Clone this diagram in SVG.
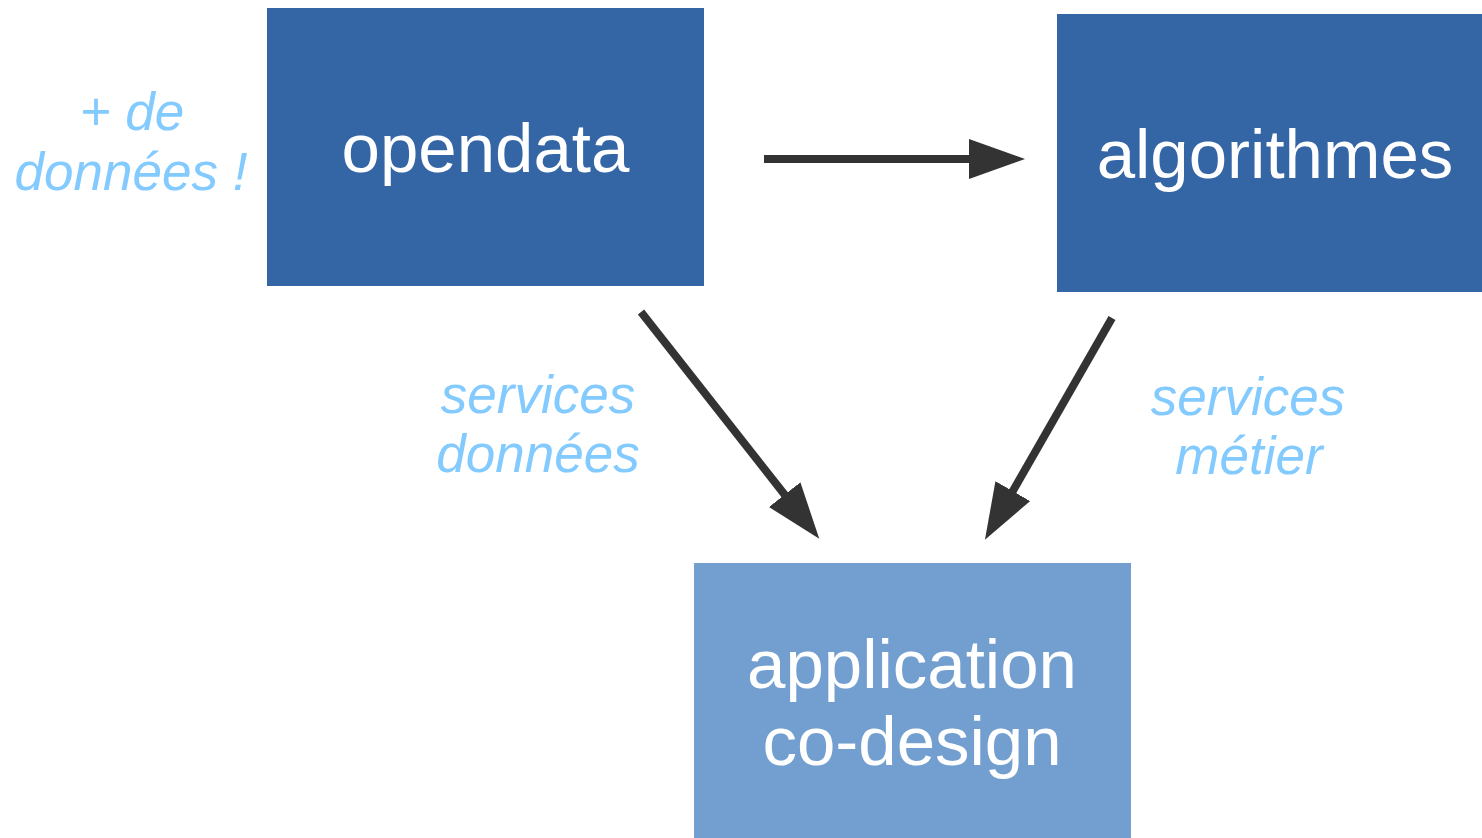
<svg xmlns="http://www.w3.org/2000/svg" width="1482" height="838" viewBox="0 0 1482 838">
<style>
.box-dark{fill:#3465a4}
.box-light{fill:#729fcf}
.lbl{font-family:"Liberation Sans",Arial,sans-serif;font-size:69px;fill:#ffffff;text-anchor:middle}
.note{font-family:"Liberation Sans",Arial,sans-serif;font-size:53px;font-style:italic;fill:#83caff;text-anchor:middle}
.conn{stroke:#333333;stroke-width:8;fill:none}
</style>
<defs>
<marker id="ah" markerUnits="userSpaceOnUse" markerWidth="58" markerHeight="42" refX="3" refY="20" orient="auto" viewBox="0 0 58 42">
<path d="M0,0 L56,20 L0,40 z" fill="#333333"/>
</marker>
</defs>
<rect width="1482" height="838" fill="#ffffff"/>
<g id="opendata">
<rect class="box-dark" x="267" y="8" width="437" height="278"/>
<text class="lbl" x="485.5" y="172">opendata</text>
</g>
<g id="algorithmes">
<rect class="box-dark" x="1057" y="14" width="425" height="278"/>
<text class="lbl" x="1275" y="178">algorithmes</text>
</g>
<g id="application">
<rect class="box-light" x="694" y="563" width="437" height="275"/>
<text class="lbl" x="912" y="688">application</text>
<text class="lbl" x="912" y="765">co-design</text>
</g>
<g id="note-donnees">
<text class="note" x="132" y="130">+ de</text>
<text class="note" x="131" y="190">données !</text>
</g>
<g id="note-services-donnees">
<text class="note" x="538" y="413">services</text>
<text class="note" x="538" y="472">données</text>
</g>
<g id="note-services-metier">
<text class="note" x="1248" y="415">services</text>
<text class="note" x="1249" y="474">métier</text>
</g>
<g id="connectors">
<line class="conn" x1="764" y1="159" x2="972" y2="159" marker-end="url(#ah)"/>
<line class="conn" x1="641" y1="312" x2="786.5" y2="497" marker-end="url(#ah)"/>
<line class="conn" x1="1112" y1="318" x2="1011.3" y2="493.7" marker-end="url(#ah)"/>
</g>
</svg>
